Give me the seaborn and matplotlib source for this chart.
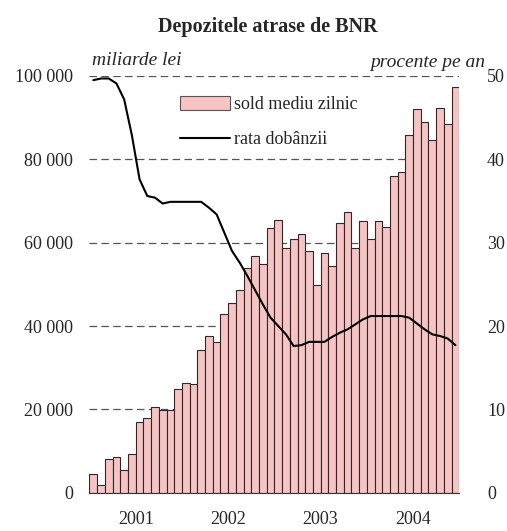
import numpy as np
import pandas as pd
import matplotlib
matplotlib.use("Agg")
import matplotlib.pyplot as plt
import seaborn as sns
from matplotlib.patches import Patch
from matplotlib.lines import Line2D

# monthly data, Jan 2001 - Dec 2004
years = ['2001', '2002', '2003', '2004']
months = list(range(48))

# average daily balance (billion lei)
sold = [4400, 1760, 8000, 8640, 5360, 9200, 16880, 17840, 20640, 19760, 19760, 24800,
        26400, 26000, 34160, 37520, 36080, 42800, 45440, 48560, 54000, 56740, 54800, 63600,
        65400, 58700, 60900, 62200, 57900, 49800, 57500, 54400, 64700, 67400, 58700, 65100,
        60900, 65100, 63700, 75900, 76900, 85800, 92100, 89000, 84700, 92300, 88500, 97400]

# interest rate (percent per year)
rata = [49.5, 49.7, 49.7, 49.1, 47.2, 42.9, 37.6, 35.6, 35.4, 34.7, 34.9, 34.9,
        34.9, 34.9, 34.9, 34.2, 33.4, 31.2, 29.0, 27.6, 26.0, 24.3, 22.6, 21.0,
        20.0, 19.0, 17.6, 17.7, 18.1, 18.1, 18.1, 18.7, 19.2, 19.6, 20.2, 20.8,
        21.2, 21.2, 21.2, 21.2, 21.2, 21.0, 20.3, 19.6, 19.0, 18.8, 18.5, 17.7]

df = pd.DataFrame({'luna': months, 'sold': sold, 'rata': rata})

sns.set_style('white')
plt.rcParams['font.family'] = ['Liberation Serif', 'DejaVu Serif']

fig = plt.figure(figsize=(5.07, 5.31), dpi=100)
ax = fig.add_axes([0.1765, 0.0721, 0.7294, 0.7848])

bar_color = '#f7c3c3'
sns.barplot(data=df, x='luna', y='sold', color=bar_color, width=1.0,
            edgecolor='#2a2a2a', linewidth=0.8, saturation=1, ax=ax, zorder=2)
for p in ax.patches:
    p.set_facecolor(bar_color)

ax.set_xlim(-0.5, 47.5)
ax.set_ylim(0, 100000)
ax.set_yticks([0, 20000, 40000, 60000, 80000, 100000])
ax.set_yticklabels(['0', '20 000', '40 000', '60 000', '80 000', '100 000'])
for y in [20000, 40000, 60000, 80000, 100000]:
    ax.axhline(y, color='#555555', lw=0.9, ls=(0, (6, 3.5)), zorder=1)

# year boundaries as ticks, year names centred between them
ax.set_xticks([-0.5, 11.5, 23.5, 35.5, 47.5])
ax.set_xticklabels([])
ax.set_xticks([5.5, 17.5, 29.5, 41.5], minor=True)
ax.set_xticklabels(years, minor=True)
ax.tick_params(axis='x', which='major', direction='out', length=5, width=0.8, color='#333333')
ax.tick_params(axis='x', which='minor', length=0, pad=13, labelsize=13)
ax.tick_params(axis='y', length=0, pad=12, labelsize=13)
ax.set_xlabel('')
ax.set_ylabel('')
for s in ['top', 'left', 'right']:
    ax.spines[s].set_visible(False)
ax.spines['bottom'].set_color('#333333')
ax.spines['bottom'].set_linewidth(0.8)

ax2 = ax.twinx()
sns.lineplot(data=df, x='luna', y='rata', color='black', lw=1.5, ax=ax2)
ax2.set_ylim(0, 50)
ax2.set_yticks([0, 10, 20, 30, 40, 50])
ax2.tick_params(axis='y', length=0, pad=20, labelsize=13)
ax2.set_ylabel('')
ax2.set_xlabel('')
for s in ax2.spines.values():
    s.set_visible(False)
ax2.set_xlim(-0.5, 47.5)

handles = [Patch(facecolor=bar_color, edgecolor='#555555', linewidth=0.8),
           Line2D([], [], color='black', lw=1.5)]
ax2.legend(handles, ['sold mediu zilnic', 'rata dobânzii'], loc='upper left',
           bbox_to_anchor=(0.2, 0.99), frameon=False, fontsize=13,
           handlelength=2.8, handleheight=0.75, handletextpad=0.2, labelspacing=1.0)

fig.text(0.5276, 0.949, 'Depozitele atrase de BNR', ha='center', va='center',
         fontsize=14.5, fontweight='bold')
fig.text(0.181, 0.8776, 'miliarde lei', ha='left', va='baseline', fontsize=14, style='italic')
fig.text(0.9566, 0.8738, 'procente pe an', ha='right', va='baseline', fontsize=14, style='italic')

fig.savefig('out.png', dpi=100)
